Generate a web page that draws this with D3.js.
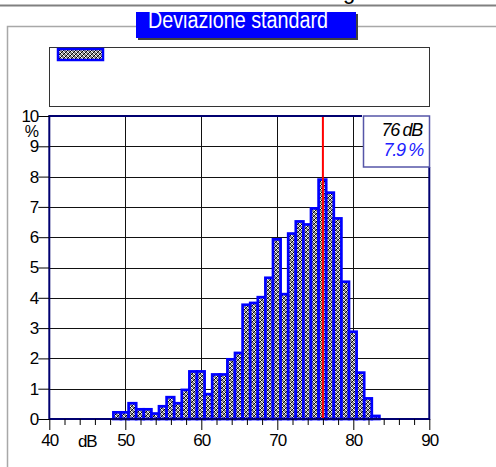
<!DOCTYPE html>
<html><head><meta charset="utf-8">
<script src="https://cdn.jsdelivr.net/npm/d3@7"></script>
<style>
html,body{margin:0;padding:0;background:#fff;}
svg{display:block;font-family:"Liberation Sans",Arial,sans-serif;}
</style></head>
<body>
<script>
// ---- data ----
const title = "Deviazione standard";
const bins = [49,50,51,52,53,54,55,56,57,58,59,60,61,62,63,64,65,66,67,68,69,70,71,72,73,74,75,76,77,78,79,80,81,82,83];
const percents = [0.22,0.22,0.52,0.32,0.32,0.18,0.42,0.72,0.52,0.96,1.57,1.57,0.82,1.47,1.47,1.97,2.18,3.77,3.83,4.02,4.66,5.93,4.12,6.12,6.52,6.42,6.95,7.9,7.47,6.62,4.53,2.88,1.53,0.68,0.1];
const xTicks = [40,50,60,70,80,90];
const xMinorTicks = [42,44,46,48,52,54,56,58,62,64,66,68,72,74,76,78,82,84,86,88];
const yTicks = [0,1,2,3,4,5,6,7,8,9,10];
const markerDb = 76;
const markerPct = 7.9;

const W = 496, H = 467;
const svg = d3.select("body").append("svg").attr("width", W).attr("height", H);

// pattern for bar fill (dithered grey)
const defs = svg.append("defs");
const pat = defs.append("pattern").attr("id","chk").attr("patternUnits","userSpaceOnUse")
  .attr("width",4).attr("height",4);
pat.append("rect").attr("width",4).attr("height",4).attr("fill","#8a8a8a");
[[0,0,"#fff"],[1,0,"#000"],[0,1,"#000"],[1,1,"#fff"],[2,2,"#fff"],[3,2,"#000"],[2,3,"#000"],[3,3,"#fff"]].forEach(([x,y,c])=>{
  pat.append("rect").attr("x",x).attr("y",y).attr("width",1).attr("height",1).attr("fill",c);
});

// top cut title line
svg.append("line").attr("x1",0).attr("x2",W).attr("y1",5.5).attr("y2",5.5)
  .attr("stroke","#808080").attr("stroke-width",2);
svg.append("text").attr("x",343).attr("y",-1).attr("font-size",22).attr("fill","#000").text("g");

// outer frame
svg.append("path").attr("d",`M7.5,${H} V26.5 H${W}`).attr("fill","none")
  .attr("stroke","#a8a8a8").attr("stroke-width",1.5);

// title box
svg.append("rect").attr("x",138).attr("y",14).attr("width",220).attr("height",26).attr("fill","#404040");
svg.append("rect").attr("x",136).attr("y",12).attr("width",220).attr("height",26).attr("fill","#0000ff");
svg.append("text").attr("x",148).attr("y",28).attr("font-size",23).attr("fill","#fff")
  .attr("textLength",180).attr("lengthAdjust","spacingAndGlyphs").text(title);

// legend box
svg.append("rect").attr("x",49.5).attr("y",47.5).attr("width",380).attr("height",59)
  .attr("fill","#fff").attr("stroke","#333").attr("stroke-width",1);
svg.append("rect").attr("x",58).attr("y",49).attr("width",45).attr("height",11)
  .attr("fill","url(#chk)").attr("stroke","#0000ff").attr("stroke-width",2.5);

// scales
const x = d3.scaleLinear().domain([40,90]).range([49.3,429.3]);
const y = d3.scaleLinear().domain([0,10]).range([419,116]);

// grid
const g = svg.append("g");
g.selectAll("line.hg").data(yTicks.filter(d=>d>0&&d<10)).join("line")
  .attr("x1",x(40)).attr("x2",x(90)).attr("y1",d=>Math.round(y(d))+0.5).attr("y2",d=>Math.round(y(d))+0.5)
  .attr("stroke","#111").attr("stroke-width",1);
g.selectAll("line.vg").data(xTicks.filter(d=>d>40&&d<90)).join("line")
  .attr("x1",d=>Math.round(x(d))+0.5).attr("x2",d=>Math.round(x(d))+0.5).attr("y1",y(10)).attr("y2",y(0))
  .attr("stroke","#111").attr("stroke-width",1);

// bars
const bw = x(1)-x(0);
svg.append("g").selectAll("rect").data(bins.map((b,i)=>({b,v:percents[i]}))).join("rect")
  .attr("x",d=>x(d.b-0.5)-0.5).attr("width",bw)
  .attr("y",d=>y(d.v)).attr("height",d=>y(0)-y(d.v))
  .attr("fill","url(#chk)").attr("stroke","#0000ff").attr("stroke-width",2.7);

// marker line
svg.append("line").attr("x1",x(markerDb)).attr("x2",x(markerDb)).attr("y1",y(10)).attr("y2",y(0))
  .attr("stroke","#ff0000").attr("stroke-width",2);

// plot borders
const navy = "#000070";
svg.append("path").attr("d",`M${x(40)},${y(10)} H362`).attr("stroke",navy).attr("stroke-width",2).attr("fill","none");
svg.append("path").attr("d",`M${x(40)},${y(10)-1} V${y(0)} H${x(90)} V167`).attr("stroke",navy).attr("stroke-width",2).attr("fill","none");

// info box
svg.append("rect").attr("x",363.5).attr("y",116).attr("width",66).attr("height",51)
  .attr("fill","#fff").attr("stroke","#5656a8").attr("stroke-width",1.5);
svg.append("text").attr("x",422).attr("y",136).attr("text-anchor","end").attr("font-size",18)
  .attr("font-style","italic").attr("letter-spacing",-1.3).attr("fill","#000").text(markerDb + " dB");
svg.append("text").attr("x",423).attr("y",156).attr("text-anchor","end").attr("font-size",18)
  .attr("font-style","italic").attr("letter-spacing",-1.3).attr("fill","#2020ff").text(markerPct + " %");

// y axis
const yAxis = d3.axisLeft(y).tickValues(yTicks).tickSize(11).tickPadding(0).tickFormat(d3.format("d"));
const ya = svg.append("g").attr("transform",`translate(${x(40)},0)`).call(yAxis);
ya.select(".domain").remove();
ya.selectAll("line").attr("stroke","#000");
ya.selectAll("text").attr("font-size",17).attr("font-family","Liberation Sans, Arial, sans-serif").attr("fill","#000").attr("x",-11).attr("letter-spacing",-1);
svg.append("text").attr("x",39).attr("y",137).attr("text-anchor","end").attr("font-size",16).attr("fill","#000").text("%");

// x axis
const xAxis = d3.axisBottom(x).tickValues(xTicks).tickSize(11).tickPadding(4).tickFormat(d3.format("d"));
const xa = svg.append("g").attr("transform",`translate(0,${y(0)})`).call(xAxis);
xa.select(".domain").remove();
xa.selectAll("line").attr("stroke","#000");
xa.selectAll("text").attr("font-size",17).attr("font-family","Liberation Sans, Arial, sans-serif").attr("fill","#000").attr("letter-spacing",-1);
const xMinor = d3.axisBottom(x).tickValues(xMinorTicks).tickSize(6).tickFormat("");
const xm = svg.append("g").attr("transform",`translate(0,${y(0)})`).call(xMinor);
xm.select(".domain").remove();
xm.selectAll("line").attr("stroke","#000");
svg.append("text").attr("x",x(45)).attr("y",447).attr("text-anchor","middle").attr("font-size",17)
  .attr("letter-spacing",-1).attr("fill","#000").text("dB");
</script>
</body></html>
